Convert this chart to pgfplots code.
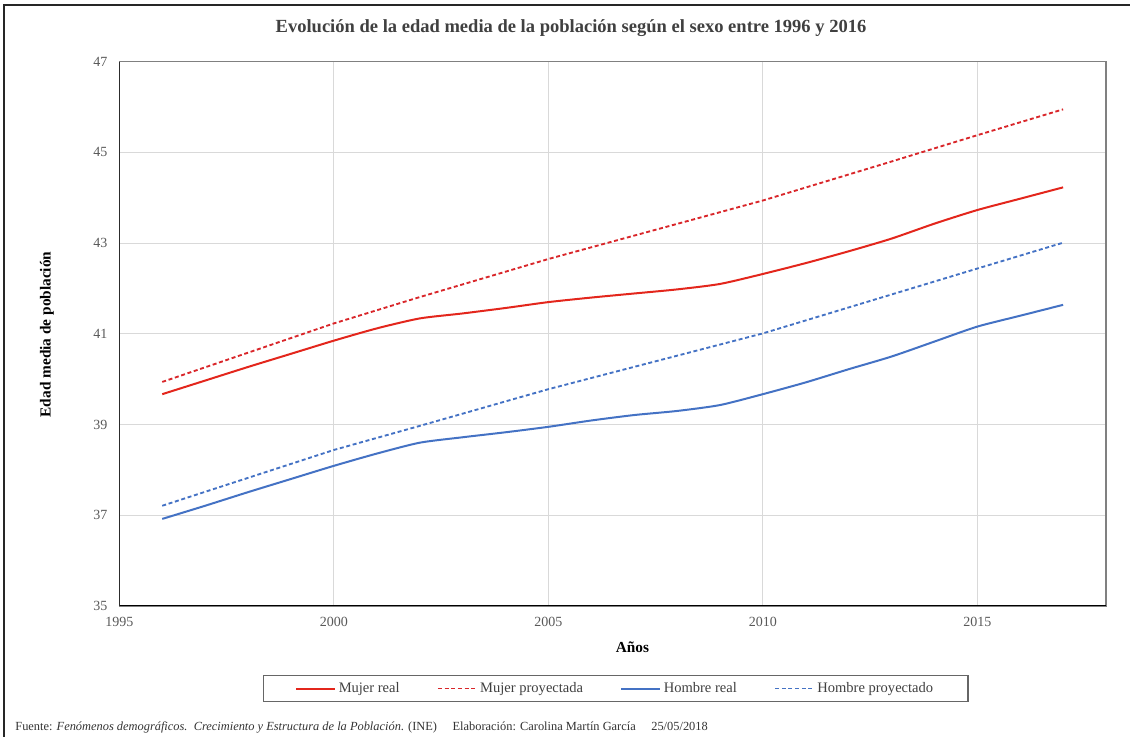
\documentclass[border=0pt]{standalone}
\usepackage{pgfplots}
\pgfplotsset{compat=1.18}
\usepackage{fontspec}
\setmainfont{Liberation Serif}
\definecolor{mred}{HTML}{E3261C}
\definecolor{mredd}{HTML}{D9262A}
\definecolor{hblue}{HTML}{4472C4}
\definecolor{gridc}{HTML}{D9D9D9}
\definecolor{tickc}{HTML}{595959}
\definecolor{titc}{HTML}{404040}
\begin{document}
\begin{tikzpicture}
\path[use as bounding box] (0,0) rectangle (847.5pt,552.75pt);
\draw[line width=1.1pt, color=black!85] (3pt,0) -- (3pt,549pt) -- (847.5pt,549pt);
\node[font=\fontsize{13.9}{16}\selectfont\bfseries, color=titc] at (428.25pt,531.75pt) {Evolución de la edad media de la población según el sexo entre 1996 y 2016};
\node[font=\fontsize{9.3}{11}\selectfont, anchor=west, color=black!80] at (8pt,7.5pt) {Fuente: \textit{Fenómenos demográficos.\ \ Crecimiento y Estructura de la Población}. (INE)\quad\ Elaboración: Carolina Martín García\quad\ 25/05/2018};
\begin{axis}[
  at={(89.5pt,98.25pt)}, anchor=south west,
  scale only axis, width=740pt, height=408.2pt,
  xmin=1995, xmax=2018, ymin=35, ymax=47,
  xtick={1995,2000,2005,2010,2015},
  ytick={35,37,39,41,43,45,47},
  xticklabel style={/pgf/number format/1000 sep={}},
  /pgf/number format/assume math mode=true,
  tick label style={font=\fontsize{10.5}{12}\selectfont, color=tickc},
  yticklabel style={xshift=-5.5pt},
  xticklabel style={yshift=-5pt},
  major tick length=0pt,
  grid=major, grid style={gridc, line width=0.6pt},
  axis line style={draw=gray, line width=1pt},
  xlabel={Años}, ylabel={Edad media de población},
  label style={font=\fontsize{11.5}{13}\selectfont\bfseries, color=black},
  xlabel style={at={(axis description cs:0.52,-0.0753)}, anchor=center},
  ylabel style={at={(axis description cs:-0.0733,0.499)}, anchor=center, rotate=0},
  legend columns=4,
  legend style={at={(axis description cs:0.503,-0.1516)}, anchor=center,
    draw=black!60, line width=1pt, font=\fontsize{10.9}{12}\selectfont, text=titc,
    inner xsep=24pt, inner ysep=3pt,
    /tikz/every even column/.append style={column sep=26pt}},
  legend image code/.code={\draw[#1] (0pt,0pt) -- (29pt,0pt);},
]
\addplot[mred, line width=1.5pt, smooth, tension=0.4] coordinates {
(1996,39.67)(1997,39.97)(1998,40.27)(1999,40.56)(2000,40.85)(2001,41.12)(2002,41.34)(2003,41.45)(2004,41.57)(2005,41.70)(2006,41.80)(2007,41.89)(2008,41.98)(2009,42.10)(2010,42.32)(2011,42.56)(2012,42.82)(2013,43.10)(2014,43.43)(2015,43.73)(2016,43.98)(2017,44.23)};
\addlegendentry{Mujer real}
\addplot[mredd, line width=1.4pt, dash pattern=on 3pt off 2pt] coordinates {
(1996,39.94)(2000,41.23)(2002,41.81)(2005,42.65)(2010,43.94)(2013,44.80)(2015,45.38)(2017,45.95)};
\addlegendentry{Mujer proyectada}
\addplot[hblue, line width=1.5pt, smooth, tension=0.4] coordinates {
(1996,36.92)(1997,37.21)(1998,37.51)(1999,37.80)(2000,38.09)(2001,38.36)(2002,38.60)(2003,38.72)(2004,38.83)(2005,38.95)(2006,39.09)(2007,39.21)(2008,39.30)(2009,39.43)(2010,39.67)(2011,39.93)(2012,40.22)(2013,40.50)(2014,40.83)(2015,41.16)(2016,41.40)(2017,41.64)};
\addlegendentry{Hombre real}
\addplot[hblue, line width=1.4pt, dash pattern=on 3pt off 2pt] coordinates {
(1996,37.21)(2000,38.44)(2002,38.97)(2005,39.78)(2010,41.01)(2015,42.44)(2017,43.01)};
\addlegendentry{Hombre proyectado}
\draw[black, line width=1pt] (rel axis cs:0,1) -- (rel axis cs:0,0) -- (rel axis cs:1,0);
\end{axis}
\end{tikzpicture}
\end{document}
